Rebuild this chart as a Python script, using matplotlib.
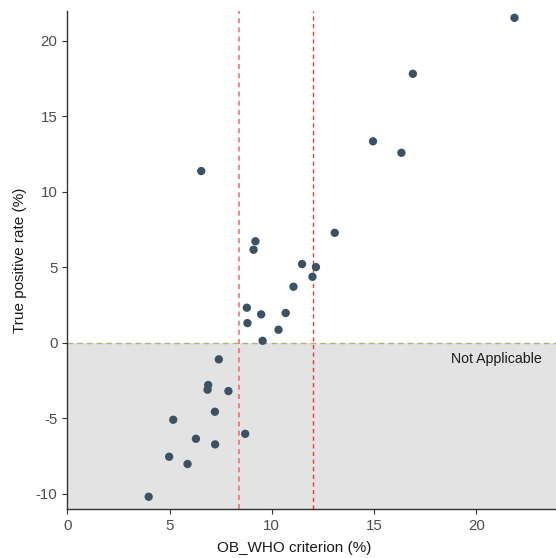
import matplotlib
matplotlib.use("Agg")
import matplotlib.pyplot as plt

plt.rcParams['font.family'] = ['Liberation Sans', 'DejaVu Sans']
plt.rcParams['axes.unicode_minus'] = False

# valores
ob_who = [21.87, 16.90, 14.95, 16.34, 6.55, 13.08, 9.20, 9.11, 11.48, 12.16,
          11.99, 11.06, 8.78, 10.68, 9.48, 8.81, 10.33, 9.55,
          7.41, 6.89, 6.86, 7.88, 7.22, 5.18, 8.70, 6.29, 7.23, 4.98, 5.88, 3.98]
tpr = [21.52, 17.81, 13.34, 12.58, 11.37, 7.28, 6.72, 6.16, 5.21, 5.01,
       4.37, 3.71, 2.32, 1.97, 1.88, 1.30, 0.86, 0.13,
       -1.10, -2.80, -3.11, -3.20, -4.57, -5.10, -6.03, -6.36, -6.73, -7.55, -8.03, -10.2]
cutoffs = [8.4, 12.0]
x_ticks = [0, 5, 10, 15, 20]
y_ticks = [-10, -5, 0, 5, 10, 15, 20]

fig = plt.figure(figsize=(5.56, 5.58), dpi=100)
ax = fig.add_axes([67.3 / 556, 1 - 509.3 / 558, 1 - 67.3 / 556, (509.3 - 11) / 558])

xmax = 23.9
ymin, ymax = -11.03, 21.97
ax.set_xlim(0, xmax)
ax.set_ylim(ymin, ymax)

# zona "Not Applicable"
ax.axhspan(ymin, 0, color="#E3E3E3", zorder=0, lw=0)
ax.axhline(0, color="#B5B46E", lw=1.0, ls=(0, (4, 3)), zorder=1)
ax.axvline(cutoffs[0], color="#FF5555", lw=1.2, ls=(0, (3, 2.5)), alpha=0.85, zorder=1)
ax.axvline(cutoffs[1], color="#EE2222", lw=1.0, ls=(0, (3, 2.5)), alpha=0.9, zorder=1)

ax.scatter(ob_who, tpr, s=36, color="#3B5266", edgecolors="none", zorder=3)

ax.text(20.98, -1.08, "Not Applicable", ha="center", va="center",
        fontsize=10.2, color="#1A1A1A")

ax.set_xticks(x_ticks)
ax.set_yticks(y_ticks)
ax.tick_params(axis="both", labelsize=10.8, labelcolor="#4D4D4D", color="#333333",
               length=3.5, width=0.8)
for side in ["top", "right"]:
    ax.spines[side].set_visible(False)
for side in ["left", "bottom"]:
    ax.spines[side].set_color("#333333")
    ax.spines[side].set_linewidth(1.0)

ax.set_xlabel("OB_WHO criterion (%)", fontsize=11, color="#1A1A1A", labelpad=5)
ax.xaxis.set_label_coords((294 - 67.3) / (556 - 67.3), -0.064)
ax.set_ylabel("True positive rate (%)", fontsize=11, color="#1A1A1A", labelpad=6)

fig.savefig("out.png", dpi=100)
plt.close(fig)
